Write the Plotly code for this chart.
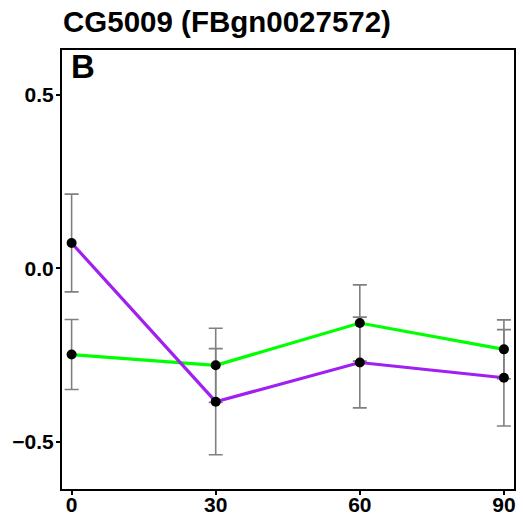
import plotly.graph_objects as go

# Time course values (minutes) with mean and standard error per group
timepoints = [0, 30, 60, 90]
purple_mean = [0.073, -0.385, -0.272, -0.316]
purple_err = [0.141, 0.153, 0.131, 0.139]
green_mean = [-0.249, -0.280, -0.158, -0.234]
green_err = [0.101, 0.107, 0.110, 0.085]

x_ticks = [0, 30, 60, 90]
y_ticks = [-0.5, 0.0, 0.5]
y_tick_text = ["\u22120.5", "0.0", "0.5"]

title_text = "CG5009 (FBgn0027572)"
panel_label = "B"

FONT = "Liberation Sans, Arial, sans-serif"

fig = go.Figure()

for mean, err, color in [(green_mean, green_err, "#00FF00"),
                         (purple_mean, purple_err, "#A020F0")]:
    # error bars underneath
    fig.add_trace(go.Scatter(
        x=timepoints, y=mean, mode="markers",
        marker=dict(size=1, color="rgba(0,0,0,0)"),
        error_y=dict(type="data", array=err, visible=True,
                     color="#808080", thickness=1.6, width=7),
        showlegend=False, hoverinfo="skip"))
    fig.add_trace(go.Scatter(
        x=timepoints, y=mean, mode="lines",
        line=dict(color=color, width=3.2),
        showlegend=False))

for mean in [green_mean, purple_mean]:
    fig.add_trace(go.Scatter(
        x=timepoints, y=mean, mode="markers",
        marker=dict(color="black", size=10),
        showlegend=False))

fig.update_layout(
    width=523, height=516,
    margin=dict(l=62, r=9, t=50, b=27),
    paper_bgcolor="white", plot_bgcolor="white",
    showlegend=False,
    title=dict(text=title_text, xref="container", x=63 / 523, xanchor="left",
               yref="container", y=1 - 22 / 516, yanchor="middle",
               font=dict(family=FONT, size=29.5, color="black", weight="bold")),
    annotations=[dict(text=panel_label, xref="paper", yref="paper",
                      x=(69 - 62) / 452, y=1 - (67 - 50) / 439,
                      xanchor="left", yanchor="middle", showarrow=False,
                      font=dict(family=FONT, size=33, color="black", weight="bold"))],
)

fig.update_xaxes(
    range=[-2.0, 92.1], tickvals=x_ticks, ticktext=[str(v) for v in x_ticks],
    showgrid=False, zeroline=False, showline=True, mirror=True,
    linecolor="black", linewidth=2, ticks="outside", ticklen=4,
    tickwidth=2, tickcolor="black", automargin=False, ticklabelstandoff=-8,
    tickfont=dict(family=FONT, size=21, color="black", weight="bold"))

fig.update_yaxes(
    range=[-0.637, 0.630], tickvals=y_ticks, ticktext=y_tick_text,
    showgrid=False, zeroline=False, showline=True, mirror=True,
    linecolor="black", linewidth=2, ticks="outside", ticklen=4,
    tickwidth=2, tickcolor="black", automargin=False, ticklabelstandoff=-2,
    tickfont=dict(family=FONT, size=21, color="black", weight="bold"))

fig.write_html("out.html")
